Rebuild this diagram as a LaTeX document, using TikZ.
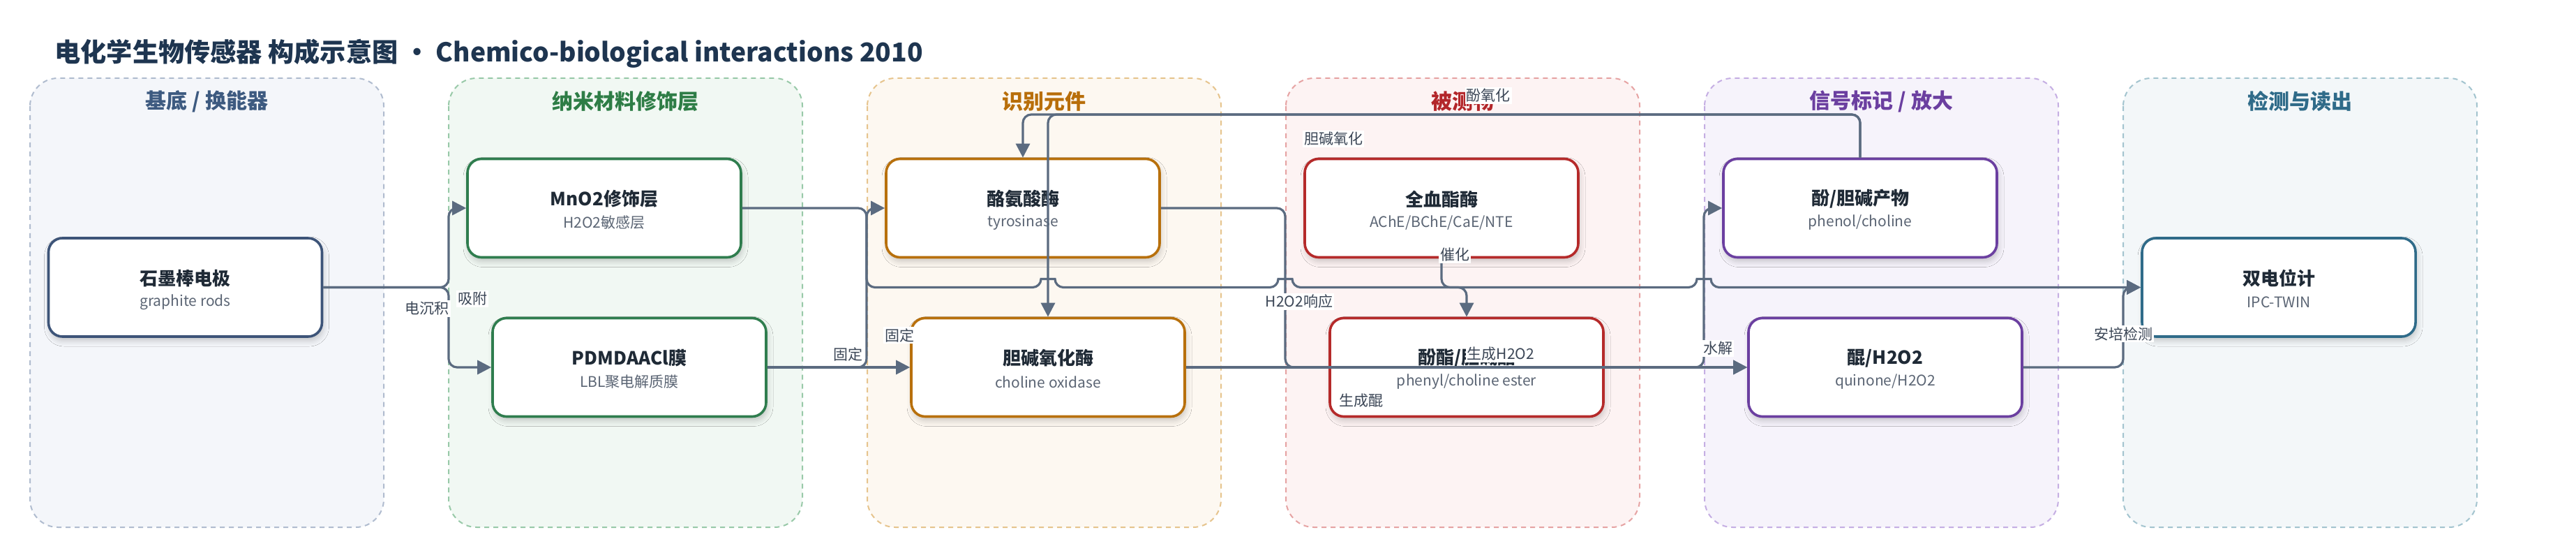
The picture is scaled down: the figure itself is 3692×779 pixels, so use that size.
\documentclass[tikz,border=0pt]{standalone}
\usepackage{fontspec}
\setmainfont{Noto Sans CJK SC}
\usetikzlibrary{arrows.meta,shadows.blur,calc}

\definecolor{linecol}{HTML}{5B6B80}
\definecolor{titlecol}{HTML}{1E3550}
\definecolor{ttltext}{HTML}{1F2A36}
\definecolor{subtext}{HTML}{5B6574}
\definecolor{labtext}{HTML}{3B4656}
\definecolor{pAfill}{HTML}{F4F6FA}\definecolor{pAdraw}{HTML}{B0BCCF}\definecolor{pAtitle}{HTML}{3D5A80}\definecolor{pAnode}{HTML}{3D5478}
\definecolor{pBfill}{HTML}{F1F8F3}\definecolor{pBdraw}{HTML}{98C9A8}\definecolor{pBtitle}{HTML}{2E7D46}\definecolor{pBnode}{HTML}{2F7D4E}
\definecolor{pCfill}{HTML}{FDF8F1}\definecolor{pCdraw}{HTML}{E6C48D}\definecolor{pCtitle}{HTML}{B86E0A}\definecolor{pCnode}{HTML}{B8700C}
\definecolor{pDfill}{HTML}{FDF3F3}\definecolor{pDdraw}{HTML}{E6A3A3}\definecolor{pDtitle}{HTML}{B3262A}\definecolor{pDnode}{HTML}{B52A2A}
\definecolor{pEfill}{HTML}{F6F3FB}\definecolor{pEdraw}{HTML}{C5AEE3}\definecolor{pEtitle}{HTML}{6B3FA0}\definecolor{pEnode}{HTML}{6B3FA0}
\definecolor{pFfill}{HTML}{F3F7F9}\definecolor{pFdraw}{HTML}{A3C4CF}\definecolor{pFtitle}{HTML}{2F6B89}\definecolor{pFnode}{HTML}{2F6B89}

\tikzset{
  panelbox/.style={fill=#1fill, draw=#1draw, line width=1pt, dash pattern=on 3.5pt off 3pt, rounded corners=20pt},
  paneltitle/.style={font=\fontsize{15}{17}\selectfont\bfseries, text=#1title, inner sep=0pt},
  enode/.style={draw=#1node, fill=white, line width=1.8pt, rounded corners=10pt,
    minimum width=196pt, minimum height=70.5pt, inner sep=0pt,
    blur shadow={shadow xshift=1pt, shadow yshift=-3pt, shadow blur radius=4pt, shadow opacity=20}},
  ttl/.style={font=\fontsize{13}{15}\selectfont\bfseries, text=ttltext, inner sep=0pt},
  sub/.style={font=\fontsize{10.5}{12}\selectfont, text=subtext, inner sep=0pt},
  elabel/.style={font=\fontsize{10.5}{12}\selectfont, text=labtext, fill=white, inner sep=1pt},
  conn/.style={draw=linecol, line width=1.6pt, rounded corners=6pt, -{Triangle[length=10pt,width=10pt]}},
}

\newcommand\mybox[6]{%
  \node[enode=#4] (#1) at (#2,#3) {};
  \node[ttl] (#1t) at ($(#1.center)+(0,-13)$) {#5};
  \node[sub] (#1s) at ($(#1.center)+(0,21)$) {#6};
}

\begin{document}
\begin{tikzpicture}[x=0.5pt,y=-0.5pt]
\useasboundingbox[fill=white] (0,0) rectangle (3692,779);

% title
\node[anchor=west, inner sep=0pt, font=\fontsize{18.6}{22}\selectfont\bfseries, text=titlecol] (title) at (78,77)
  {电化学生物传感器 构成示意图 • Chemico-biological interactions 2010};

% panels
\foreach \p/\i/\t in {pA/0/{基底 / 换能器}, pB/1/{纳米材料修饰层}, pC/2/{识别元件}, pD/3/{被测物}, pE/4/{信号标记 / 放大}, pF/5/{检测与读出}}{
  \path[panelbox=\p] (43+600*\i,112) rectangle (550+600*\i,755);
  \node[paneltitle=\p] (\p title) at (296.5+600*\i,145) {\t};
}

% nodes
\mybox{g}{265.5}{411.5}{pA}{石墨棒电极}{graphite rods}
\mybox{mno}{866}{298}{pB}{MnO2修饰层}{H2O2敏感层}
\mybox{pdm}{902}{526}{pB}{PDMDAACl膜}{LBL聚电解质膜}
\mybox{tyr}{1466}{298}{pC}{酪氨酸酶}{tyrosinase}
\mybox{cho}{1502}{526}{pC}{胆碱氧化酶}{choline oxidase}
\mybox{est}{2066}{298}{pD}{全血酯酶}{AChE/BChE/CaE/NTE}
\mybox{ester}{2102}{526}{pD}{酚酯/胆碱酯}{phenyl/choline ester}
\mybox{phen}{2666}{298}{pE}{酚/胆碱产物}{phenol/choline}
\mybox{qui}{2702}{526}{pE}{醌/H2O2}{quinone/H2O2}
\mybox{det}{3266}{411.5}{pF}{双电位计}{IPC-TWIN}

% lanes
\coordinate (lA) at (643,0);
\coordinate (lB) at (1242,0);
\coordinate (lC) at (1842,0);
\coordinate (lD) at (2442,0);
\coordinate (lE) at (3043,0);
\coordinate (ltop) at (0,164);

% connectors
\draw[conn] (g.east) -- (g.east -| lA) -- (lA |- mno.west) -- (mno.west);
\draw[conn] (g.east) -- (g.east -| lA) -- (lA |- pdm.west) -- (pdm.west);
\draw[conn] (mno.east) -- (lB |- mno.east) -- (lB |- det.west)
   -- ($(cho.north |- det.west)+(-10,0)$) .. controls ($(cho.north |- det.west)+(-10,-12)$) and ($(cho.north |- det.west)+(10,-12)$) .. ($(cho.north |- det.west)+(10,0)$)
   -- ($(lC |- det.west)+(-10,0)$) .. controls ($(lC |- det.west)+(-10,-12)$) and ($(lC |- det.west)+(10,-12)$) .. ($(lC |- det.west)+(10,0)$)
   -- ($(lD |- det.west)+(-10,0)$) .. controls ($(lD |- det.west)+(-10,-12)$) and ($(lD |- det.west)+(10,-12)$) .. ($(lD |- det.west)+(10,0)$)
   -- (det.west);
\draw[conn] (pdm.east) -- (lB |- pdm.east) -- (lB |- tyr.west) -- (tyr.west);
\draw[conn] (pdm.east) -- (cho.west);
\draw[conn] (tyr.east) -- (lC |- tyr.east) -- (lC |- qui.west) -- (qui.west);
\draw[conn] (cho.east) -- (qui.west);
\draw[conn] (phen.north) -- (phen.north |- ltop) -- (tyr.north |- ltop) -- (tyr.north);
\draw[conn] (phen.north) -- (phen.north |- ltop) -- (cho.north |- ltop) -- (cho.north);
\draw[conn] (est.south) -- (est.south |- det.west) -- (ester.north |- det.west) -- (ester.north);
\draw[conn] (ester.east) -- (lD |- ester.east) -- (lD |- phen.west) -- (phen.west);
\draw[conn] (qui.east) -- (lE |- qui.east) -- (lE |- det.west) -- (det.west);

% labels
\node[elabel] (l1) at (612,442) {电沉积};
\node[elabel] (l2) at (677,428) {吸附};
\node[elabel] (l3) at (1862,432) {H2O2响应};
\node[elabel] (l4) at (1215,507) {固定};
\node[elabel] (l5) at (1289,480) {固定};
\node[elabel] (l6) at (1951,574) {生成醌};
\node[elabel] (l7) at (2151,507) {生成H2O2};
\node[elabel] (l8) at (2133,137) {酚氧化};
\node[elabel] (l9) at (1911,199) {胆碱氧化};
\node[elabel] (l10) at (2085,365) {催化};
\node[elabel] (l11) at (2462,499) {水解};
\node[elabel] (l12) at (3043,478) {安培检测};
\end{tikzpicture}
\end{document}
